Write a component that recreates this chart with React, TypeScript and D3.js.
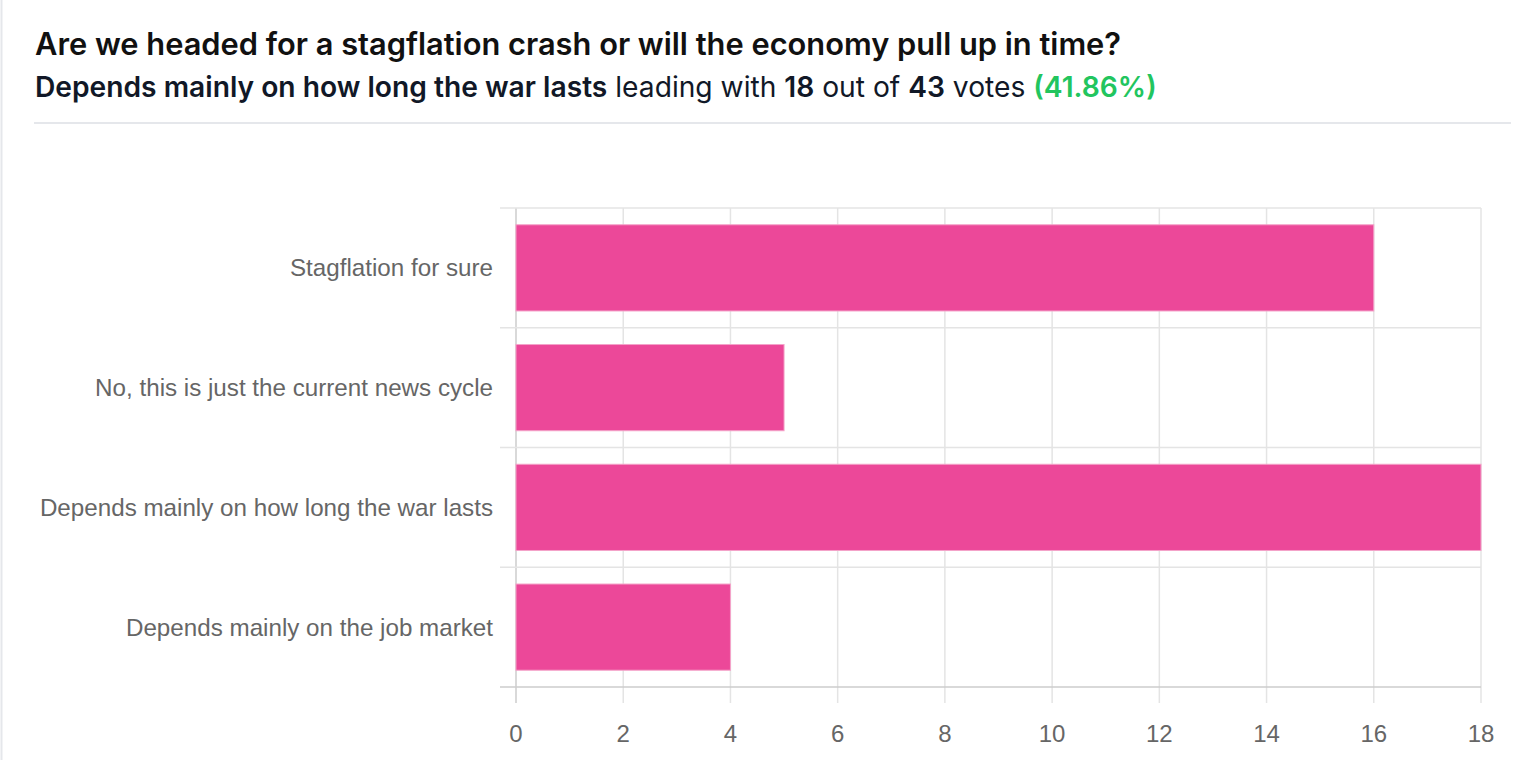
import { useEffect, useRef } from "react";
import * as d3 from "d3";

const title = "Are we headed for a stagflation crash or will the economy pull up in time?";
const options = [
  "Stagflation for sure",
  "No, this is just the current news cycle",
  "Depends mainly on how long the war lasts",
  "Depends mainly on the job market",
];
const votes = [16, 5, 18, 4];
const xTicks = [0, 2, 4, 6, 8, 10, 12, 14, 16, 18];

const width = 1530;
const height = 760;

function App() {
  const svgRef = useRef<SVGSVGElement | null>(null);

  useEffect(() => {
    const svg = d3.select(svgRef.current);
    svg.selectAll("*").remove();

    const left = 516;
    const right = 1481;
    const top = 208;
    const bottom = 687;

    const xScale = d3.scaleLinear().domain([0, 18]).range([left, right]);
    const yScale = d3.scaleBand<string>().domain(options).range([top, bottom]);

    // page frame
    svg
      .append("line")
      .attr("x1", 1.5)
      .attr("x2", 1.5)
      .attr("y1", 0)
      .attr("y2", height)
      .attr("stroke", "#e5e7eb")
      .attr("stroke-width", 2);

    // heading
    svg
      .append("text")
      .attr("x", 35)
      .attr("y", 55)
      .attr("font-family", "Inter, 'Noto Sans', sans-serif")
      .attr("font-weight", 600)
      .attr("font-size", 30.8)
      .attr("fill", "#111111")
      .text(title);

    const total = d3.sum(votes);
    const lead = d3.maxIndex(votes);
    const pct = ((votes[lead] / total) * 100).toFixed(2);

    const sub = svg
      .append("text")
      .attr("x", 35)
      .attr("y", 97)
      .attr("font-family", "Inter, 'Noto Sans', sans-serif")
      .attr("font-size", 28.2)
      .attr("fill", "#111827");
    const parts: [string, boolean, string][] = [
      [options[lead], true, "#111827"],
      [" leading with ", false, "#111827"],
      [String(votes[lead]), true, "#111827"],
      [" out of ", false, "#111827"],
      [String(total), true, "#111827"],
      [" votes ", false, "#111827"],
      [`(${pct}%)`, true, "#22c55e"],
    ];
    parts.forEach(([t, bold, c]) => {
      sub
        .append("tspan")
        .attr("font-weight", bold ? 600 : 400)
        .attr("fill", c)
        .attr("xml:space", "preserve")
        .text(t);
    });

    svg
      .append("line")
      .attr("x1", 34)
      .attr("x2", 1511)
      .attr("y1", 123)
      .attr("y2", 123)
      .attr("stroke", "#e5e7eb")
      .attr("stroke-width", 2);

    // grid
    const grid = svg.append("g");
    xTicks.forEach((t) => {
      grid
        .append("line")
        .attr("x1", xScale(t))
        .attr("x2", xScale(t))
        .attr("y1", top)
        .attr("y2", bottom + 16)
        .attr("stroke", t === 0 ? "#cccccc" : "#e4e4e4")
        .attr("stroke-width", 1.5);
    });
    const bounds = [...options.map((o) => yScale(o) as number), bottom];
    bounds.forEach((b) => {
      grid
        .append("line")
        .attr("x1", left - 16)
        .attr("x2", right)
        .attr("y1", b)
        .attr("y2", b)
        .attr("stroke", b === bottom ? "#cccccc" : "#e4e4e4")
        .attr("stroke-width", 1.5);
    });

    // bars
    const bw = yScale.bandwidth();
    const barH = bw * 0.72;
    svg
      .append("g")
      .selectAll("rect")
      .data(options)
      .join("rect")
      .attr("x", xScale(0))
      .attr("y", (d) => (yScale(d) as number) + (bw - barH) / 2)
      .attr("width", (d, i) => xScale(votes[i]) - xScale(0))
      .attr("height", barH)
      .attr("fill", "#ec4899")
      .attr("stroke", "#f4a3c9")
      .attr("stroke-width", 1);

    // category labels
    svg
      .append("g")
      .selectAll("text")
      .data(options)
      .join("text")
      .attr("x", 493)
      .attr("y", (d) => (yScale(d) as number) + bw / 2)
      .attr("dy", "0.35em")
      .attr("text-anchor", "end")
      .attr("font-family", "'Liberation Sans', Arial, sans-serif")
      .attr("font-size", 24.2)
      .attr("fill", "#666666")
      .text((d) => d);

    // x tick labels
    svg
      .append("g")
      .selectAll("text")
      .data(xTicks)
      .join("text")
      .attr("x", (d) => xScale(d))
      .attr("y", 742)
      .attr("text-anchor", "middle")
      .attr("font-family", "'Liberation Sans', Arial, sans-serif")
      .attr("font-size", 24)
      .attr("fill", "#666666")
      .text((d) => d);
  }, []);

  return (
    <svg
      ref={svgRef}
      width={width}
      height={height}
      style={{ position: "absolute", left: 0, top: 0, background: "#fff" }}
    ></svg>
  );
}

export default App;
